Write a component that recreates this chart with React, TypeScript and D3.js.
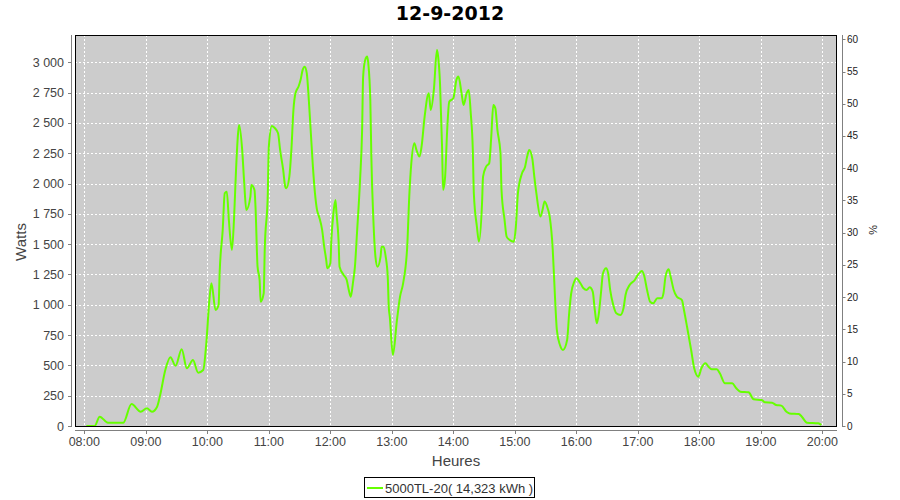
import React from "react";
import * as d3 from "d3";

const times: string[] = [
  "08:02","08:10","08:15","08:23","08:38","08:46","08:55","09:01","09:06","09:11",
  "09:14","09:19","09:24","09:29","09:35","09:40","09:46","09:51","09:56","09:59",
  "10:02","10:04","10:08","10:11","10:12","10:15","10:17","10:19","10:21","10:24",
  "10:26","10:28","10:30","10:31","10:34","10:36","10:38","10:42","10:43","10:46",
  "10:47","10:49","10:51","10:52","10:55","10:56","10:59","11:00","11:03","11:06",
  "11:09","11:11","11:14","11:16","11:17","11:20","11:22","11:24","11:26","11:29",
  "11:31","11:33","11:35","11:37","11:39","11:41","11:43","11:45","11:47","11:49",
  "11:52","11:54","11:56","11:57","12:00","12:01","12:03","12:05","12:06","12:08",
  "12:09","12:13","12:16","12:18","12:20","12:22","12:24","12:26","12:29","12:31",
  "12:32","12:34","12:36","12:37","12:39","12:40","12:42","12:44","12:46","12:49",
  "12:50","12:52","12:54","12:56","12:57","12:58","13:01","13:05","13:08","13:11",
  "13:15","13:17","13:19","13:22","13:24","13:27","13:29","13:32","13:36","13:38",
  "13:41","13:44","13:45","13:47","13:49","13:50","13:52","13:54","13:56","14:00",
  "14:03","14:05","14:08","14:10","14:13","14:15","14:17","14:19","14:20","14:23",
  "14:25","14:28","14:29","14:32","14:35","14:37","14:39","14:41","14:43","14:46",
  "14:47","14:50","14:52","14:55","14:59","15:01","15:03","15:07","15:10","15:12",
  "15:14","15:17","15:19","15:21","15:25","15:27","15:29","15:32","15:34","15:37",
  "15:39","15:41","15:44","15:47","15:51","15:53","15:55","15:58","16:00","16:04",
  "16:07","16:10","16:13","16:16","16:18","16:20","16:22","16:24","16:26","16:29",
  "16:31","16:33","16:36","16:39","16:43","16:46","16:48","16:52","16:57","17:00",
  "17:04","17:06","17:09","17:12","17:15","17:19","17:23","17:25","17:27","17:30",
  "17:32","17:35","17:38","17:43","17:45","17:48","17:52","17:55","17:59","18:02",
  "18:06","18:09","18:12","18:17","18:20","18:25","18:32","18:36","18:40","18:48",
  "18:53","19:01","19:04","19:11","19:15","19:20","19:25","19:28","19:37","19:40",
  "19:45","19:56","19:59"
];

const watts: number[] = [
  0,0,77,27,27,181,118,146,118,159,
  256,462,567,497,633,476,544,440,462,682,
  1039,1177,957,998,1260,1617,1920,1933,1699,1452,
  1699,2112,2415,2483,2277,2002,1782,1892,1988,1947,
  1809,1314,1204,1025,1095,1452,1920,2304,2475,2456,
  2415,2277,2112,1974,1961,2057,2277,2607,2745,2800,
  2855,2937,2964,2910,2690,2415,2139,1920,1782,1727,
  1617,1479,1369,1301,1342,1534,1755,1864,1755,1534,
  1314,1246,1204,1122,1067,1177,1314,1590,2029,2442,
  2882,3019,3047,2992,2690,2222,1699,1397,1314,1397,
  1479,1479,1397,1232,984,902,586,874,1067,1177,
  1479,1892,2167,2332,2277,2222,2304,2552,2745,2607,
  2772,3102,3060,2827,2304,1947,2057,2442,2675,2703,
  2855,2882,2745,2648,2745,2772,2579,2277,1920,1644,
  1520,1837,2057,2139,2167,2387,2648,2620,2442,2250,
  1947,1699,1562,1534,1520,1644,1920,2084,2139,2222,
  2277,2208,2057,1920,1727,1782,1851,1796,1727,1452,
  1095,792,668,627,709,930,1095,1190,1218,1177,
  1136,1122,1144,1108,957,847,930,1095,1260,1301,
  1260,1122,998,930,916,971,1081,1163,1204,1246,
  1279,1246,1122,1025,1012,1053,1053,1095,1232,1292,
  1232,1122,1067,1039,957,819,627,476,407,476,
  517,489,468,468,435,352,352,311,283,278,
  220,214,195,192,173,168,118,104,99,77,
  27,22,8
];

const wattTicks: number[] = [0,250,500,750,1000,1250,1500,1750,2000,2250,2500,2750,3000];
const pctTicks: number[] = [0,5,10,15,20,25,30,35,40,45,50,55,60];
const hourTicks: string[] = ["08:00","09:00","10:00","11:00","12:00","13:00","14:00","15:00","16:00","17:00","18:00","19:00","20:00"];

const title = "12-9-2012";
const xLabel = "Heures";
const yLabel = "Watts";
const y2Label = "%";
const seriesName = "5000TL-20( 14,323 kWh )";

const toMin = (s: string) => {
  const [h, m] = s.split(":").map(Number);
  return h * 60 + m;
};

export default function App() {
  const W = 900, H = 500;
  const L = 75, R = 837, T = 35, B = 426;
  const x = d3.scaleLinear().domain([470.9, 1214.3]).range([L, R]);
  const y = d3.scaleLinear().domain([0, 3225]).range([B, T]);
  const y2 = d3.scaleLinear().domain([0, 60.67]).range([B, T]);

  const data = times.map((t, i) => ({ t: toMin(t), v: watts[i] }));
  const line = d3.line<{ t: number; v: number }>()
    .x(d => x(d.t))
    .y(d => y(d.v))
    .curve(d3.curveMonotoneX);

  const fmtW = (v: number) => {
    const s = String(v);
    return s.length > 3 ? s.slice(0, s.length - 3) + "\u00a0" + s.slice(-3) : s;
  };

  const font = "'Liberation Sans', Arial, sans-serif";

  return (
    <svg width={W} height={H} style={{ position: "absolute", left: 0, top: 0, background: "#fff" }}>
      <defs>
        <clipPath id="plotclip">
          <rect x={L} y={T} width={R - L} height={B - T + 1} />
        </clipPath>
      </defs>
      <text x={450} y={20} textAnchor="middle" fontFamily="'DejaVu Sans', sans-serif" fontWeight="bold" fontSize={19} fill="#000">{title}</text>

      <rect x={L} y={T} width={R - L} height={B - T} fill="#cccccc" />
      {hourTicks.map(h => (
        <line key={"vg" + h} x1={Math.round(x(toMin(h))) + 0.5} x2={Math.round(x(toMin(h))) + 0.5} y1={T} y2={B} stroke="#fff" strokeWidth={1} strokeDasharray="2,2" />
      ))}
      {wattTicks.map(v => (
        <line key={"hg" + v} x1={L} x2={R} y1={Math.round(y(v)) + 0.5} y2={Math.round(y(v)) + 0.5} stroke="#fff" strokeWidth={1} strokeDasharray="2,2" />
      ))}

      <path d={line(data) || ""} fill="none" stroke="#66ff00" strokeWidth={2} strokeLinejoin="round" clipPath="url(#plotclip)" />

      <rect x={L + 0.5} y={T + 0.5} width={R - L - 1} height={B - T} fill="none" stroke="#000" strokeWidth={1} />

      {/* left axis */}
      <line x1={71.5} x2={71.5} y1={T} y2={B + 1} stroke="#808080" />
      {wattTicks.map(v => (
        <g key={"lt" + v}>
          <line x1={68} x2={71.5} y1={Math.round(y(v)) + 0.5} y2={Math.round(y(v)) + 0.5} stroke="#808080" />
          <text x={64} y={y(v) + 4.5} textAnchor="end" fontFamily={font} fontSize={12.5} fill="#444">{fmtW(v)}</text>
        </g>
      ))}
      <text transform={`translate(26,242) rotate(-90)`} textAnchor="middle" fontFamily={font} fontSize={15} fill="#444">{yLabel}</text>

      {/* right axis */}
      <line x1={842.5} x2={842.5} y1={T} y2={B + 1} stroke="#808080" />
      {pctTicks.map(v => (
        <g key={"rt" + v}>
          <line x1={842.5} x2={845.5} y1={Math.round(y2(v)) + 0.5} y2={Math.round(y2(v)) + 0.5} stroke="#808080" />
          <text x={847} y={y2(v) + 3.5} textAnchor="start" fontFamily={font} fontSize={10} fill="#222">{v}</text>
        </g>
      ))}
      <text transform={`translate(869,230) rotate(90)`} textAnchor="middle" fontFamily={font} fontSize={11} fill="#222">{y2Label}</text>

      {/* x axis */}
      <line x1={L} x2={R} y1={430.5} y2={430.5} stroke="#808080" />
      {hourTicks.map(h => (
        <g key={"xt" + h}>
          <line x1={Math.round(x(toMin(h))) + 0.5} x2={Math.round(x(toMin(h))) + 0.5} y1={430.5} y2={434} stroke="#808080" />
          <text x={x(toMin(h))} y={446} textAnchor="middle" fontFamily={font} fontSize={12.5} fill="#444">{h}</text>
        </g>
      ))}
      <text x={456} y={466} textAnchor="middle" fontFamily={font} fontSize={15} fill="#444">{xLabel}</text>

      {/* legend */}
      <rect x={364.5} y={477.5} width={170} height={20} fill="#fff" stroke="#000" />
      <line x1={367} x2={383} y1={488} y2={488} stroke="#66ff00" strokeWidth={2} />
      <text x={385} y={492.5} fontFamily={font} fontSize={13} fill="#333">{seriesName}</text>
    </svg>
  );
}
